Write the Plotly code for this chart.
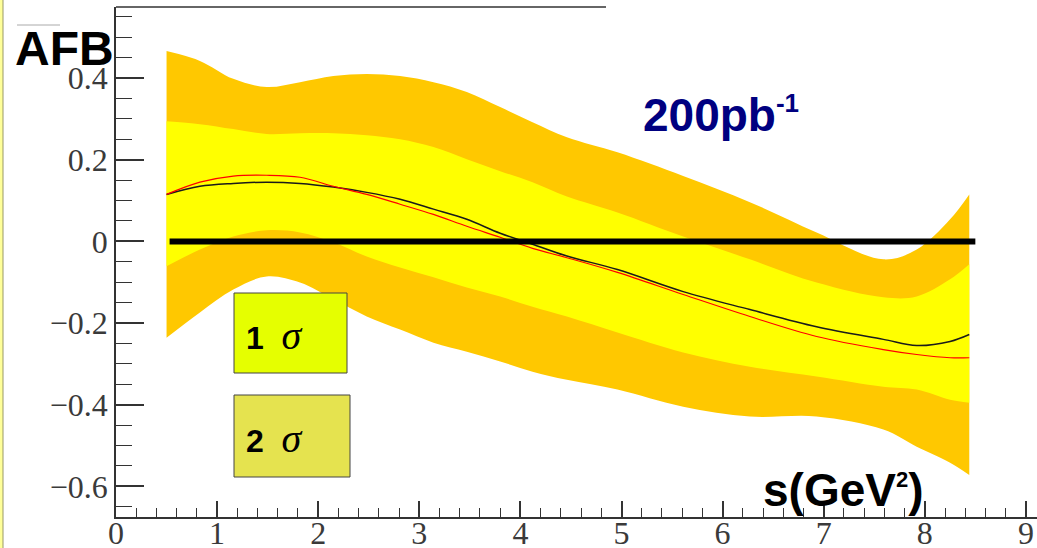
import plotly.graph_objects as go

# s (GeV^2) sample points
s_vals = [0.50, 0.83, 1.16, 1.49, 1.82, 2.15, 2.48, 2.81, 3.14, 3.47, 3.80, 4.12,
          4.46, 4.96, 5.61, 6.27, 6.93, 7.59, 7.92, 8.25, 8.44]
# 2 sigma band
outer_hi = [0.466, 0.442, 0.398, 0.378, 0.390, 0.405, 0.410, 0.405, 0.390, 0.366, 0.329, 0.292,
            0.255, 0.218, 0.160, 0.096, 0.022, -0.044, -0.020, 0.054, 0.115]
outer_lo = [-0.236, -0.174, -0.118, -0.086, -0.101, -0.142, -0.184, -0.216, -0.248, -0.270, -0.294, -0.319,
            -0.339, -0.363, -0.405, -0.429, -0.429, -0.461, -0.503, -0.542, -0.572]
# 1 sigma band
inner_hi = [0.294, 0.287, 0.275, 0.263, 0.265, 0.265, 0.260, 0.250, 0.231, 0.201, 0.172, 0.145,
            0.110, 0.071, 0.012, -0.044, -0.101, -0.137, -0.135, -0.093, -0.056]
inner_lo = [-0.061, -0.020, 0.012, 0.027, 0.022, -0.002, -0.037, -0.064, -0.088, -0.113, -0.135, -0.160,
            -0.184, -0.223, -0.272, -0.307, -0.331, -0.356, -0.363, -0.388, -0.395]
# central fit (black) and model (red)
central = [0.115, 0.135, 0.142, 0.145, 0.142, 0.133, 0.120, 0.103, 0.079, 0.054, 0.020, -0.007,
           -0.036, -0.069, -0.123, -0.167, -0.209, -0.240, -0.255, -0.245, -0.228]
model = [0.115, 0.145, 0.160, 0.162, 0.157, 0.135, 0.115, 0.091, 0.066, 0.037, 0.010, -0.017,
         -0.040, -0.076, -0.130, -0.184, -0.233, -0.265, -0.277, -0.285, -0.285]
# zero reference line
zero_x = [0.53, 8.50]
zero_y = [0.0, 0.0]

y_tickvals = [-0.6, -0.4, -0.2, 0, 0.2, 0.4]
y_ticktext = ["\u22120.6", "\u22120.4", "\u22120.2", "0", "0.2", "0.4"]
x_tickvals = [0, 1, 2, 3, 4, 5, 6, 7, 8, 9]
x_ticktext = [str(v) for v in x_tickvals]

ORANGE = "#ffc800"
YELLOW = "#ffff00"

fig = go.Figure()
fig.add_trace(go.Scatter(x=s_vals, y=outer_lo, mode="lines", line=dict(width=0, shape="spline", color=ORANGE),
                         showlegend=False, hoverinfo="skip"))
fig.add_trace(go.Scatter(x=s_vals, y=outer_hi, mode="lines", line=dict(width=0, shape="spline", color=ORANGE),
                         fill="tonexty", fillcolor=ORANGE, showlegend=False, hoverinfo="skip"))
fig.add_trace(go.Scatter(x=s_vals, y=inner_lo, mode="lines", line=dict(width=0, shape="spline", color=YELLOW),
                         showlegend=False, hoverinfo="skip"))
fig.add_trace(go.Scatter(x=s_vals, y=inner_hi, mode="lines", line=dict(width=0, shape="spline", color=YELLOW),
                         fill="tonexty", fillcolor=YELLOW, showlegend=False, hoverinfo="skip"))
fig.add_trace(go.Scatter(x=s_vals, y=central, mode="lines", line=dict(width=1.5, shape="spline", color="#1a1a1a"),
                         showlegend=False))
fig.add_trace(go.Scatter(x=s_vals, y=model, mode="lines", line=dict(width=1.2, shape="spline", color="#ff0000"),
                         showlegend=False))
fig.add_trace(go.Scatter(x=zero_x, y=zero_y, mode="lines", line=dict(width=6, color="#000000"),
                         showlegend=False))

W, H = 1037, 548
ML, MR, MT, MB = 116, 0, 7, 31
PW, PH = W - ML - MR, H - MT - MB


def px(xp):
    return (xp - ML) / PW


def py(yp):
    return (H - MB - yp) / PH


AX = "#333333"
tickfont = dict(family="Liberation Serif, Times New Roman, serif", size=32, color="#3a3a3a")

fig.update_layout(
    width=W, height=H,
    margin=dict(l=ML, r=MR, t=MT, b=MB, pad=0, autoexpand=False),
    paper_bgcolor="white", plot_bgcolor="white",
    xaxis=dict(range=[0, PW / 101.1], showgrid=False, zeroline=False, automargin=False,
               showline=True, linecolor=AX, linewidth=1.5,
               ticks="inside", ticklen=16, tickwidth=1.5, tickcolor=AX,
               tickvals=x_tickvals, ticktext=x_ticktext, tickfont=tickfont,
               ticklabelstandoff=-13,
               minor=dict(ticks="inside", ticklen=9, tickwidth=1.2, tickcolor=AX, dtick=0.2, showgrid=False)),
    yaxis=dict(range=[-0.675, 0.574], showgrid=False, zeroline=False, automargin=False,
               showline=True, linecolor=AX, linewidth=1.5,
               ticks="inside", ticklen=28, tickwidth=1.5, tickcolor=AX,
               tickvals=y_tickvals, ticktext=y_ticktext, tickfont=tickfont,
               ticklabelstandoff=0,
               minor=dict(ticks="inside", ticklen=16, tickwidth=1.2, tickcolor=AX, dtick=0.05, showgrid=False)),
    shapes=[
        # partial top frame line
        dict(type="line", xref="paper", yref="paper", x0=0, x1=px(606), y0=1, y1=1,
             line=dict(color=AX, width=1.5)),
        # legend boxes
        dict(type="rect", xref="paper", yref="paper", x0=px(234), x1=px(347), y0=py(373), y1=py(293),
             fillcolor="#e5ff00", line=dict(color="#444444", width=1)),
        dict(type="rect", xref="paper", yref="paper", x0=px(234), x1=px(350), y0=py(477), y1=py(395),
             fillcolor="#e5e34f", line=dict(color="#444444", width=1)),
        # left yellow page strip
        dict(type="rect", xref="paper", yref="paper", x0=px(0), x1=px(3), y0=py(H), y1=py(0),
             fillcolor="#ffff99", line=dict(width=0)),
        dict(type="line", xref="paper", yref="paper", x0=px(3), x1=px(3), y0=py(H), y1=py(0),
             line=dict(color="#999966", width=1)),
        # overline above AFB
        dict(type="line", xref="paper", yref="paper", x0=px(17), x1=px(60), y0=py(25), y1=py(25),
             line=dict(color="#aaaaaa", width=1)),
    ],
    annotations=[
        dict(text="<b>AFB</b>", xref="paper", yref="paper", x=px(13), y=py(48), xanchor="left", yanchor="middle",
             showarrow=False, font=dict(family="Liberation Sans", size=48, color="black")),
        dict(text="<b>200pb<sup><span style=\"font-size:26px\">-1</span></sup></b>", xref="paper", yref="paper",
             x=px(641), y=py(114),
             xanchor="left", yanchor="middle", showarrow=False,
             font=dict(family="Liberation Sans", size=46, color="#000080")),
        dict(text="<b>s(GeV<sup><span style=\"font-size:22px\">2</span></sup>)</b>", xref="paper", yref="paper",
             x=px(761), y=py(490),
             xanchor="left", yanchor="middle", showarrow=False,
             font=dict(family="Liberation Sans", size=46, color="black")),
        dict(text="<b>1</b>&nbsp; <span style=\"font-family:'Liberation Serif';font-size:40px\"><i>σ</i></span>",
             xref="paper", yref="paper",
             x=px(244), y=py(336), xanchor="left", yanchor="middle", showarrow=False,
             font=dict(family="Liberation Sans", size=32, color="black")),
        dict(text="<b>2</b>&nbsp; <span style=\"font-family:'Liberation Serif';font-size:40px\"><i>σ</i></span>",
             xref="paper", yref="paper",
             x=px(244), y=py(438), xanchor="left", yanchor="middle", showarrow=False,
             font=dict(family="Liberation Sans", size=32, color="black")),
    ],
)

fig.write_html("out.html")
